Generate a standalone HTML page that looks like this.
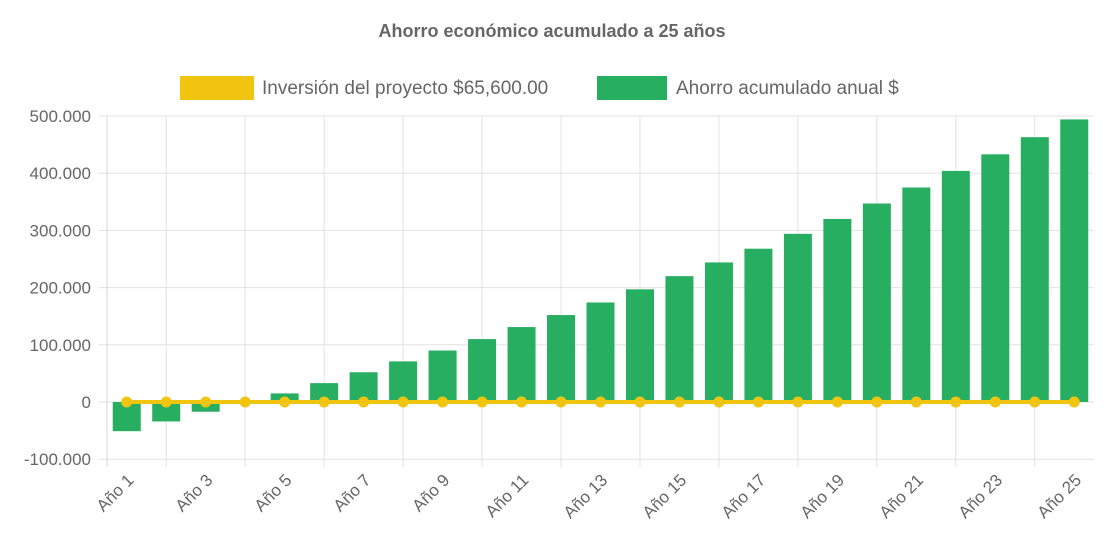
<!DOCTYPE html>
<html><head><meta charset="utf-8"><style>
body{margin:0;background:#fff;font-family:"Liberation Sans",Arial,sans-serif;}
</style></head><body>
<svg id="c" width="1104" height="551" xmlns="http://www.w3.org/2000/svg" font-family="Liberation Sans, Arial, sans-serif">
<text x="552" y="37" text-anchor="middle" font-size="18" font-weight="bold" fill="#666">Ahorro económico acumulado a 25 años</text>
<g>
<rect x="180" y="76" width="74" height="24" fill="#f1c40f"/>
<text x="262" y="94" font-size="19" fill="#666">Inversión del proyecto $65,600.00</text>
<rect x="597" y="76" width="70" height="24" fill="#27ae60"/>
<text x="676" y="94" font-size="19" fill="#666">Ahorro acumulado anual $</text>
</g>
<g id="grid"></g><g id="bars"></g><g id="line"></g><g id="labels"></g>
</svg>
<script>
const categories=[];for(let i=1;i<=25;i++)categories.push('Año '+i);
const savings=[-51000,-34000,-17000,0,15000,33000,52000,71000,90000,110000,131000,152000,174000,197000,220000,244000,268000,294000,320000,347000,375000,404000,433000,463000,494000];
const investment=[0,0,0,0,0,0,0,0,0,0,0,0,0,0,0,0,0,0,0,0,0,0,0,0,0];
const yTicks=[500000,400000,300000,200000,100000,0,-100000];
const yTickLabels=['500.000','400.000','300.000','200.000','100.000','0','-100.000'];
const NS='http://www.w3.org/2000/svg';
const X0=107,X1=1094,step=(X1-X0)/categories.length;
const y=v=>402-v*57.2/100000;
const x=i=>X0+step*(i+0.5);
function mk(p,t,a){const e=document.createElementNS(NS,t);for(const k in a)e.setAttribute(k,a[k]);document.getElementById(p).appendChild(e);return e;}
yTicks.forEach((v,i)=>{
 const g=mk('grid','line',{x1:X0-8,x2:X1,y1:y(v),y2:y(v),stroke:'#e2e2e2','stroke-width':1});
 
 
 const t=mk('labels','text',{x:X0-16,y:y(v)+6,'text-anchor':'end','font-size':17,fill:'#666'});
 t.textContent=yTickLabels[i];
 
 
});
const ax=mk('grid','line',{x1:X0,x2:X0,y1:y(500000),y2:y(-100000)+8,stroke:'#d8d8d8','stroke-width':1});


categories.forEach((c,i)=>{
 if(i%2===1){const g=mk('grid','line',{x1:x(i),x2:x(i),y1:y(500000),y2:y(-100000)+8,stroke:'#e2e2e2','stroke-width':1});
 
 }
 const v=savings[i];
 const b=mk('bars','rect',{x:x(i)-14,width:28,y:Math.min(y(v),y(0)),height:Math.max(Math.abs(y(v)-y(0)),0.5),fill:'#27ae60'});
 
 
 if(i%2===0){const t=mk('labels','text',{x:0,y:0,'text-anchor':'end','font-size':17,fill:'#666',transform:`translate(${x(i)+8},${y(-100000)+22}) rotate(-45)`});
 t.textContent=c;
 
 }
});
const pts=investment.map((v,i)=>x(i)+','+y(v)).join(' ');
const pl=mk('line','polyline',{points:pts,fill:'none',stroke:'#f1c40f','stroke-width':4});


investment.forEach((v,i)=>{const d=mk('line','circle',{cx:x(i),cy:y(v),r:5.5,fill:'#f1c40f'});
 
 });
</script>
</body></html>
